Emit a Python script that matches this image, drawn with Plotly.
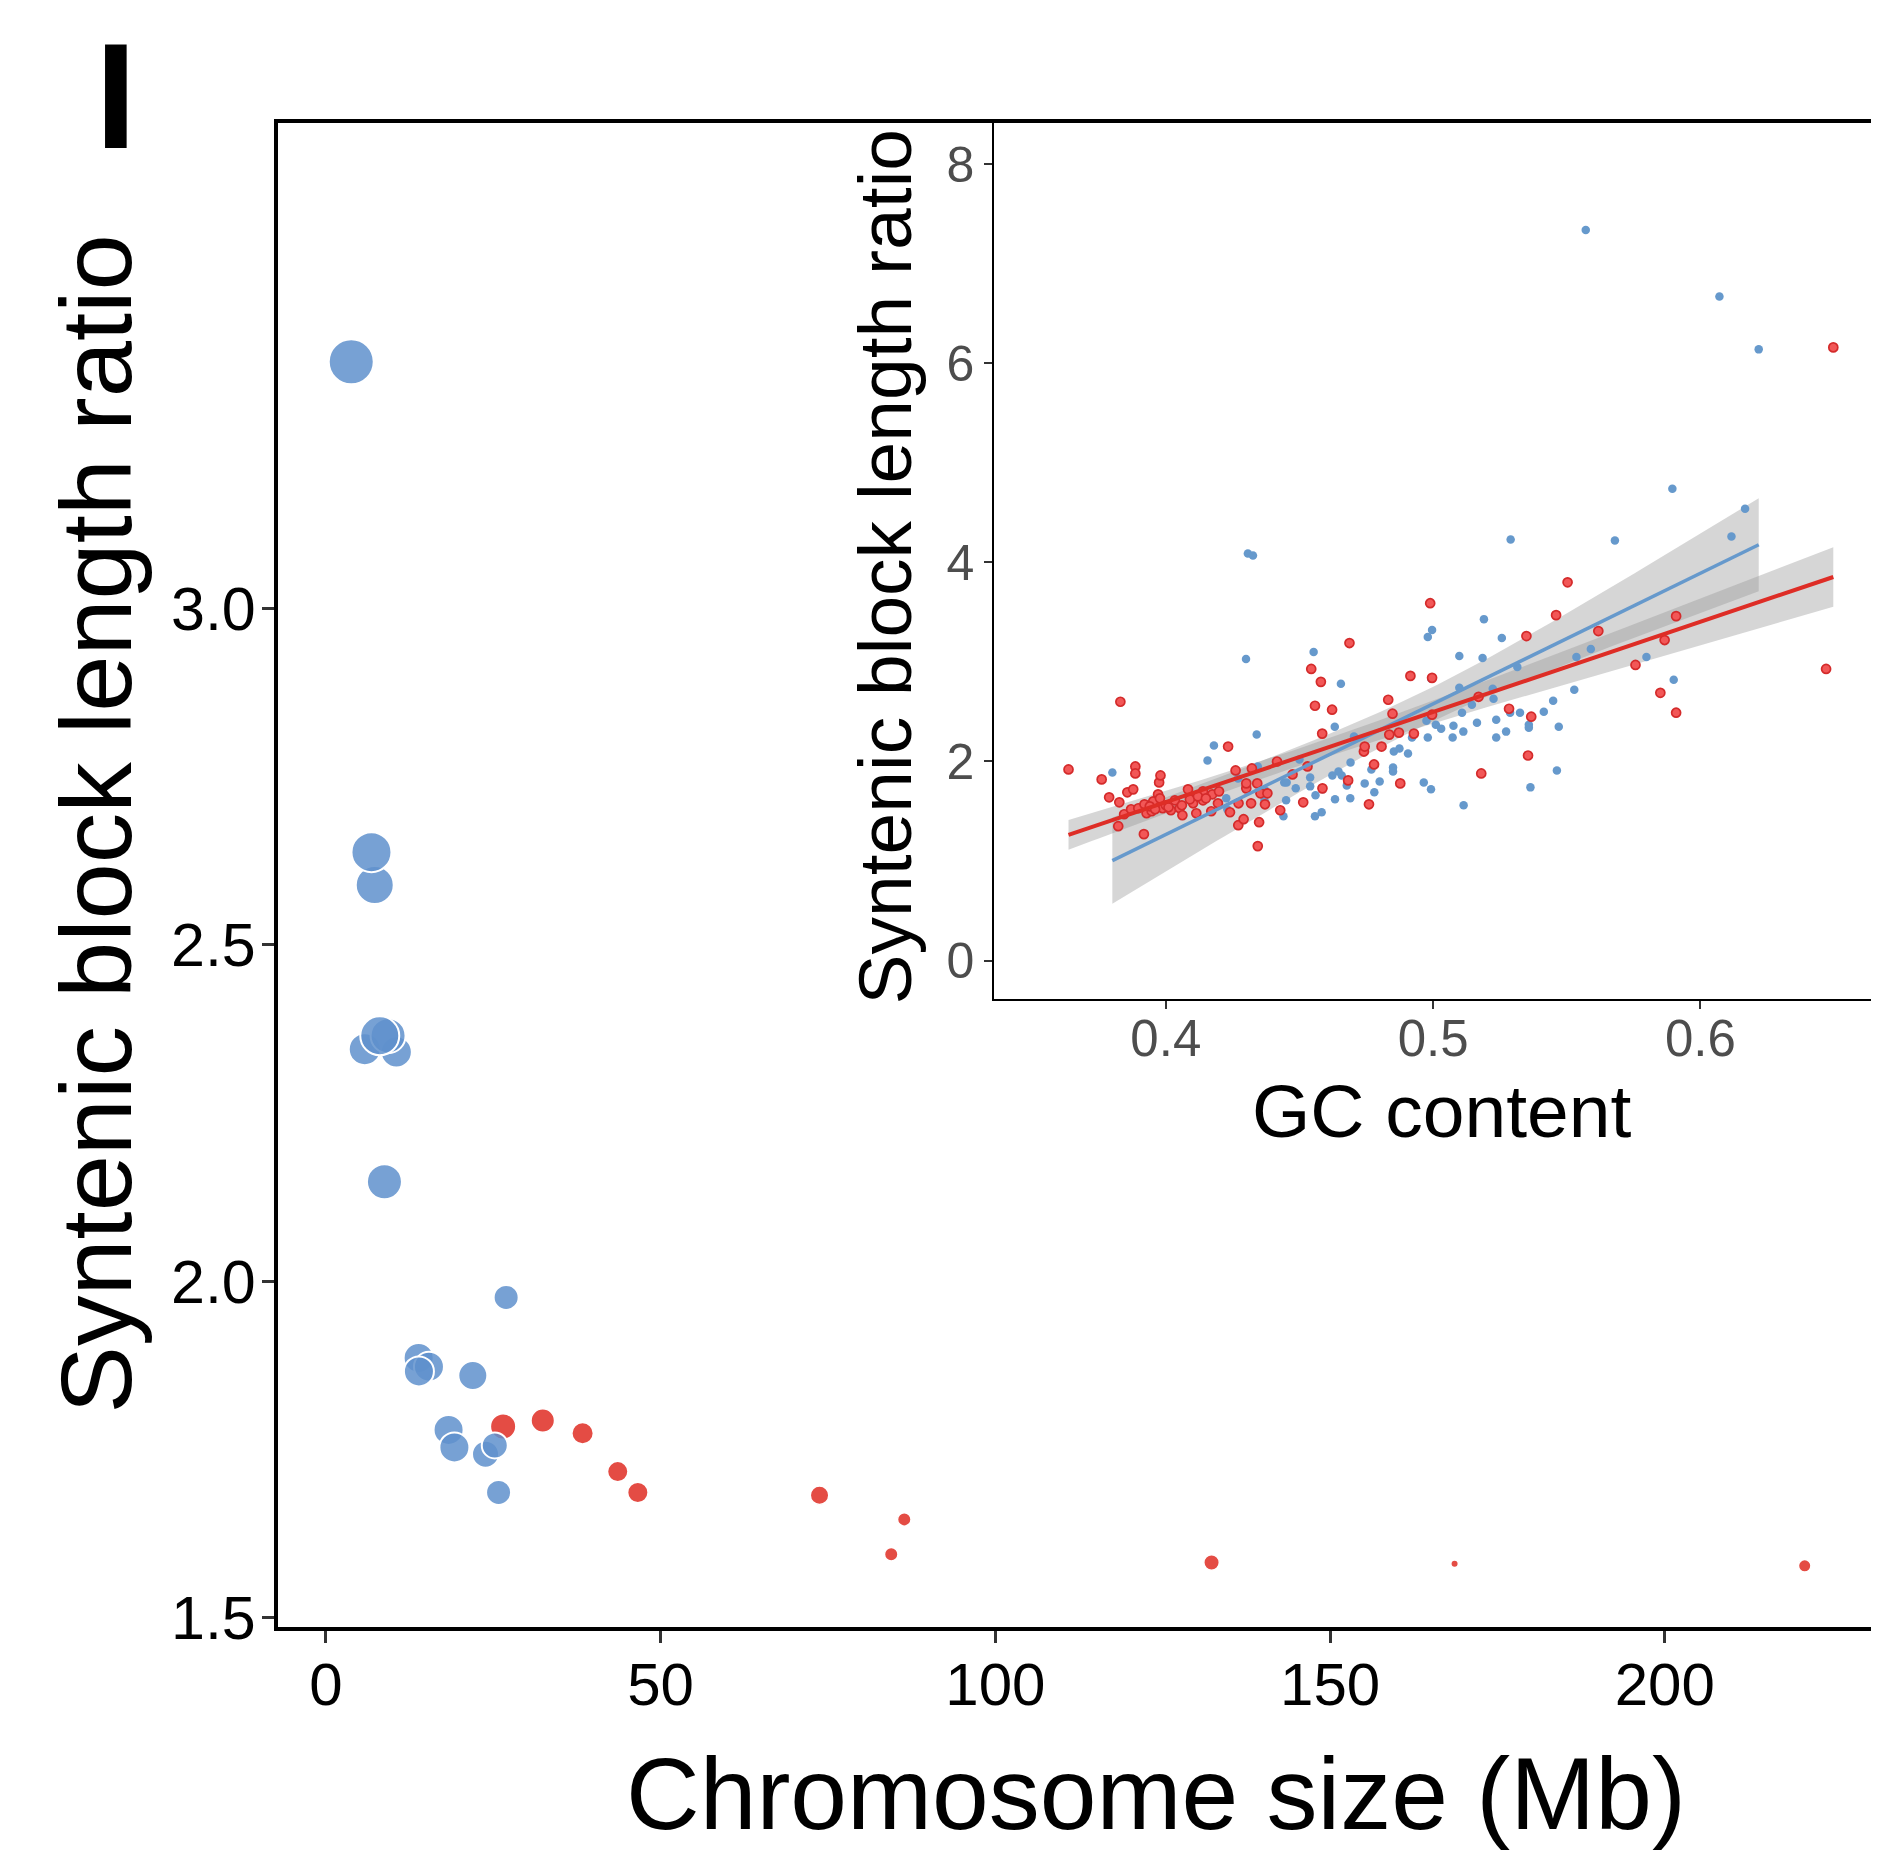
import numpy as np
import plotly.graph_objects as go

# ---------------- main panel data: chromosome size vs ratio ----------------
main_blue_size_mb = [3.79, 7.30, 6.81, 5.81, 10.53, 9.29, 8.05, 8.75, 26.93,
                     13.86, 15.4, 13.9, 21.95, 18.33, 19.2, 23.85, 25.23, 25.8]
main_blue_ratio = [3.367, 2.589, 2.638, 2.345, 2.341, 2.365, 2.365, 2.148, 1.976,
                   1.886, 1.873, 1.866, 1.860, 1.779, 1.753, 1.743, 1.756, 1.686]
main_blue_weight = [43, 36, 38, 30, 29, 33, 37, 33, 23,
                    28, 28, 28, 27, 28, 28, 25, 24, 23]

main_red_size_mb = [26.48, 32.4, 38.35, 43.6, 46.6, 73.74, 86.4, 84.45, 132.3, 168.6, 220.9]
main_red_ratio = [1.784, 1.793, 1.774, 1.717, 1.686, 1.682, 1.646, 1.594, 1.582, 1.580, 1.577]
main_red_weight = [24, 22, 20, 19, 19, 17, 12, 12, 14, 6, 11]

main_x_ticks = [0, 50, 100, 150, 200]
main_y_ticks = [1.5, 2.0, 2.5, 3.0]

# ---------------- inset data: GC content vs ratio ----------------
inset_red_gc = [0.3636, 0.376, 0.383, 0.3788, 0.3826, 0.3822, 0.3856, 0.3878, 0.3886, 0.3886,
                0.3918, 0.3844, 0.387, 0.3897, 0.3928, 0.3947, 0.3953, 0.3971, 0.3978, 0.3975,
                0.398, 0.3988, 0.4019, 0.4034, 0.4052, 0.4062, 0.4083, 0.4102, 0.4114, 0.4139,
                0.4139, 0.417, 0.4174, 0.4195, 0.4199, 0.4233, 0.424, 0.4261, 0.4272, 0.4271,
                0.4291, 0.4301, 0.4301, 0.4322, 0.4319, 0.4344, 0.4349, 0.4342, 0.4354, 0.4371,
                0.4416, 0.4428, 0.4474, 0.4514, 0.453, 0.4544, 0.458, 0.4558, 0.4622, 0.4585,
                0.4687, 0.4586, 0.4682, 0.476, 0.4741, 0.4744, 0.4779, 0.4807, 0.4832, 0.4848,
                0.4836, 0.4872, 0.4877, 0.4915, 0.4989, 0.4996, 0.4928, 0.4996, 0.517, 0.518,
                0.5284, 0.5367, 0.5355, 0.5349, 0.546, 0.5503, 0.5618, 0.5757, 0.5866, 0.5909,
                0.585, 0.5909, 0.647, 0.6497,
                0.392, 0.394, 0.396, 0.400, 0.401, 0.406, 0.409, 0.412, 0.415, 0.438]
inset_red_ratio = [1.92, 1.82, 2.60, 1.64, 1.59, 1.35, 1.69, 1.72, 1.95, 1.88,
                   1.27, 1.47, 1.52, 1.53, 1.48, 1.50, 1.60, 1.67, 1.63, 1.79,
                   1.86, 1.53, 1.51, 1.61, 1.53, 1.46, 1.72, 1.58, 1.48, 1.61,
                   1.70, 1.50, 1.67, 1.58, 1.70, 2.15, 1.49, 1.91, 1.58, 1.36,
                   1.42, 1.73, 1.78, 1.93, 1.58, 1.15, 1.39, 1.78, 1.68, 1.57,
                   2.00, 1.51, 1.87, 1.59, 1.95, 2.93, 2.80, 2.56, 2.52, 2.28,
                   3.19, 1.73, 1.81, 1.57, 2.10, 2.15, 1.97, 2.15, 2.62, 2.48,
                   2.27, 2.29, 1.78, 2.86, 3.59, 2.84, 2.28, 2.47, 2.65, 1.88,
                   2.53, 2.45, 2.06, 3.26, 3.47, 3.80, 3.31, 2.97, 3.22, 3.46,
                   2.69, 2.49, 2.93, 6.16,
                   1.57, 1.55, 1.52, 1.56, 1.54, 1.56, 1.62, 1.65, 1.63, 1.68]

inset_blue_gc = [0.380, 0.4156, 0.418, 0.4226, 0.423, 0.427, 0.430, 0.4307, 0.4326, 0.434,
                 0.4344, 0.4371, 0.4369, 0.4443, 0.4452, 0.444, 0.445, 0.4486, 0.450, 0.454,
                 0.454, 0.4553, 0.4558, 0.456, 0.4583, 0.4586, 0.4623, 0.4632, 0.4633, 0.4646,
                 0.4655, 0.4658, 0.4677, 0.469, 0.4691, 0.4704, 0.4744, 0.4769, 0.478, 0.480,
                 0.485, 0.485, 0.4853, 0.4874, 0.4906, 0.4921, 0.4965, 0.4975, 0.498, 0.498,
                 0.4993, 0.4992, 0.4996, 0.501, 0.503, 0.5073, 0.5076, 0.5098, 0.5098, 0.5108,
                 0.5113, 0.5114, 0.5145, 0.5164, 0.5185, 0.519, 0.5223, 0.5226, 0.5236, 0.5236,
                 0.5257, 0.5273, 0.5288, 0.529, 0.5315, 0.5325, 0.5358, 0.5358, 0.5364, 0.5414,
                 0.5449, 0.5463, 0.547, 0.5528, 0.5536, 0.5571, 0.559, 0.568, 0.5798, 0.5895,
                 0.590, 0.6071, 0.6116, 0.6167, 0.6218]
inset_blue_ratio = [1.89, 2.01, 2.16, 1.63, 1.52, 1.83, 3.03, 4.09, 4.07, 2.27,
                    1.95, 1.71, 1.61, 1.79, 1.79, 1.45, 1.61, 1.73, 2.02, 1.75,
                    1.84, 3.10, 1.45, 1.66, 1.49, 1.72, 1.86, 2.35, 1.62, 1.90,
                    2.78, 1.86, 1.76, 1.63, 1.99, 2.25, 1.78, 1.92, 1.69, 1.80,
                    1.94, 1.90, 2.10, 2.13, 2.08, 2.24, 1.79, 2.41, 2.24, 3.25,
                    2.83, 1.72, 3.32, 2.37, 2.33, 2.24, 2.36, 3.06, 2.74, 2.49,
                    2.30, 1.56, 2.57, 2.39, 3.04, 3.43, 2.73, 2.63, 2.42, 2.24,
                    3.24, 2.30, 2.49, 4.23, 2.95, 2.49, 2.37, 2.34, 1.74, 2.50,
                    2.61, 1.91, 2.35, 2.72, 3.05, 7.34, 3.13, 4.22, 3.05, 4.74,
                    2.82, 6.67, 4.26, 4.54, 6.14]

inset_x_ticks = [0.4, 0.5, 0.6]
inset_y_ticks = [0, 2, 4, 6, 8]

T_CRIT = 1.98  # ~qt(0.975, n-2)

FONT = "Liberation Sans, Arial, Helvetica, sans-serif"
BLUE_MAIN = "rgba(95,145,205,0.85)"
RED_MAIN = "rgb(228,76,68)"
BLUE = "#6699CC"
RED_FILL = "#F25757"
RED_EDGE = "#D42B2B"
RED_LINE = "#DE2D26"


def lm_band(x, y, n_grid=100):
    x = np.asarray(x, float)
    y = np.asarray(y, float)
    n = len(x)
    b, a = np.polyfit(x, y, 1)
    xs = np.linspace(x.min(), x.max(), n_grid)
    yhat = a + b * xs
    resid = y - (a + b * x)
    s = np.sqrt(np.sum(resid ** 2) / (n - 2))
    sxx = np.sum((x - x.mean()) ** 2)
    se = s * np.sqrt(1.0 / n + (xs - x.mean()) ** 2 / sxx)
    return xs, yhat, yhat - T_CRIT * se, yhat + T_CRIT * se


fig = go.Figure()

# ---- main panel ----
fig.add_trace(go.Scatter(
    x=main_red_size_mb, y=main_red_ratio, mode="markers",
    marker=dict(size=[w + 1.5 for w in main_red_weight], color=RED_MAIN, opacity=1,
                line=dict(color="white", width=1.5)),
    xaxis="x", yaxis="y", showlegend=False, hoverinfo="skip"))
fig.add_trace(go.Scatter(
    x=main_blue_size_mb, y=main_blue_ratio, mode="markers",
    marker=dict(size=[w + 2 for w in main_blue_weight], color=BLUE_MAIN, opacity=1,
                line=dict(color="white", width=2)),
    xaxis="x", yaxis="y", showlegend=False, hoverinfo="skip"))

# ---- inset: ribbons ----
bands = {}
for key, gx, gy in (("blue", inset_blue_gc, inset_blue_ratio),
                    ("red", inset_red_gc, inset_red_ratio)):
    xs, yh, lo, hi = lm_band(gx, gy)
    bands[key] = (xs, yh)
    fig.add_trace(go.Scatter(
        x=np.concatenate([xs, xs[::-1]]), y=np.concatenate([hi, lo[::-1]]),
        fill="toself", fillcolor="rgba(153,153,153,0.4)", line=dict(width=0),
        mode="lines", xaxis="x2", yaxis="y2", showlegend=False, hoverinfo="skip"))

# ---- inset: points ----
fig.add_trace(go.Scatter(
    x=inset_blue_gc, y=inset_blue_ratio, mode="markers",
    marker=dict(size=8.5, color=BLUE, opacity=1, line=dict(width=0)),
    xaxis="x2", yaxis="y2", showlegend=False, hoverinfo="skip"))
fig.add_trace(go.Scatter(
    x=inset_red_gc, y=inset_red_ratio, mode="markers",
    marker=dict(size=9, color=RED_FILL, opacity=1, line=dict(color=RED_EDGE, width=1.7)),
    xaxis="x2", yaxis="y2", showlegend=False, hoverinfo="skip"))

# ---- inset: fitted lines ----
fig.add_trace(go.Scatter(x=bands["blue"][0], y=bands["blue"][1], mode="lines",
                         line=dict(color=BLUE, width=3.5), xaxis="x2", yaxis="y2",
                         showlegend=False, hoverinfo="skip"))
fig.add_trace(go.Scatter(x=bands["red"][0], y=bands["red"][1], mode="lines",
                         line=dict(color=RED_LINE, width=4), xaxis="x2", yaxis="y2",
                         showlegend=False, hoverinfo="skip"))

# page has an 8px body margin: figure pixel = page pixel - 8
OFF = 8
W, H = 1879 - OFF, 1851 - OFF
L, R, T = 278 - OFF, 0, 123 - OFF
BOTTOM_PAGE = 1627
B = H - (BOTTOM_PAGE - OFF)
PW, PH = W - L - R, H - T - B


def px(X):
    return (X - OFF - L) / PW


def py(Y):
    return (BOTTOM_PAGE - Y) / PH


common_axis = dict(showgrid=False, zeroline=False, showline=True, linecolor="black",
                   ticks="outside", tickcolor="#333333")

fig.update_layout(
    width=W, height=H,
    margin=dict(l=L, r=R, t=T, b=B),
    paper_bgcolor="white", plot_bgcolor="white",
    font=dict(family=FONT, color="black"),
    xaxis=dict(domain=[0, 1], range=[-7.15, 231.4], tickvals=main_x_ticks,
               linewidth=4, mirror=True, ticklen=12, tickwidth=3,
               ticklabelstandoff=-10,
               tickfont=dict(size=60, color="black", family=FONT), anchor="y",
               **common_axis),
    yaxis=dict(domain=[0, 1], range=[1.486, 3.722], tickvals=main_y_ticks,
               tickformat=".1f", linewidth=4, mirror=True, ticklen=12, tickwidth=3,
               ticklabelstandoff=-6,
               tickfont=dict(size=61, color="black", family=FONT), anchor="x",
               **common_axis),
    xaxis2=dict(domain=[px(996), 1], range=[0.3358, 0.6653], tickvals=inset_x_ticks,
                tickformat=".1f", linewidth=2, ticklen=8, tickwidth=2,
                ticklabelstandoff=-14,
                tickfont=dict(size=51, color="#4D4D4D", family=FONT), anchor="y2",
                **common_axis),
    yaxis2=dict(domain=[py(999), 1], range=[-0.386, 8.414], tickvals=inset_y_ticks,
                linewidth=2, ticklen=8, tickwidth=2,
                tickfont=dict(size=50, color="#4D4D4D", family=FONT), anchor="x2",
                **common_axis),
    annotations=[
        dict(text="Chromosome size (Mb)", x=px(1158), y=py(1794), xref="paper", yref="paper",
             showarrow=False, xanchor="center", yanchor="middle",
             font=dict(size=102, color="black", family=FONT)),
        dict(text="Syntenic block length ratio", x=px(96), y=py(824), xref="paper", yref="paper",
             showarrow=False, xanchor="center", yanchor="middle", textangle=-90,
             font=dict(size=101, color="black", family=FONT)),
        dict(text="Syntenic block length ratio", x=px(887), y=py(566), xref="paper", yref="paper",
             showarrow=False, xanchor="center", yanchor="middle", textangle=-90,
             font=dict(size=75, color="black", family=FONT)),
        dict(text="GC content", x=px(1445), y=py(1111), xref="paper", yref="paper",
             showarrow=False, xanchor="center", yanchor="middle",
             font=dict(size=75, color="black", family=FONT)),
        dict(text="<b>I</b>", x=px(116), y=py(96), xref="paper", yref="paper",
             showarrow=False, xanchor="center", yanchor="middle",
             font=dict(size=150, color="black", family=FONT)),
    ],
)

fig.write_html("out.html")
